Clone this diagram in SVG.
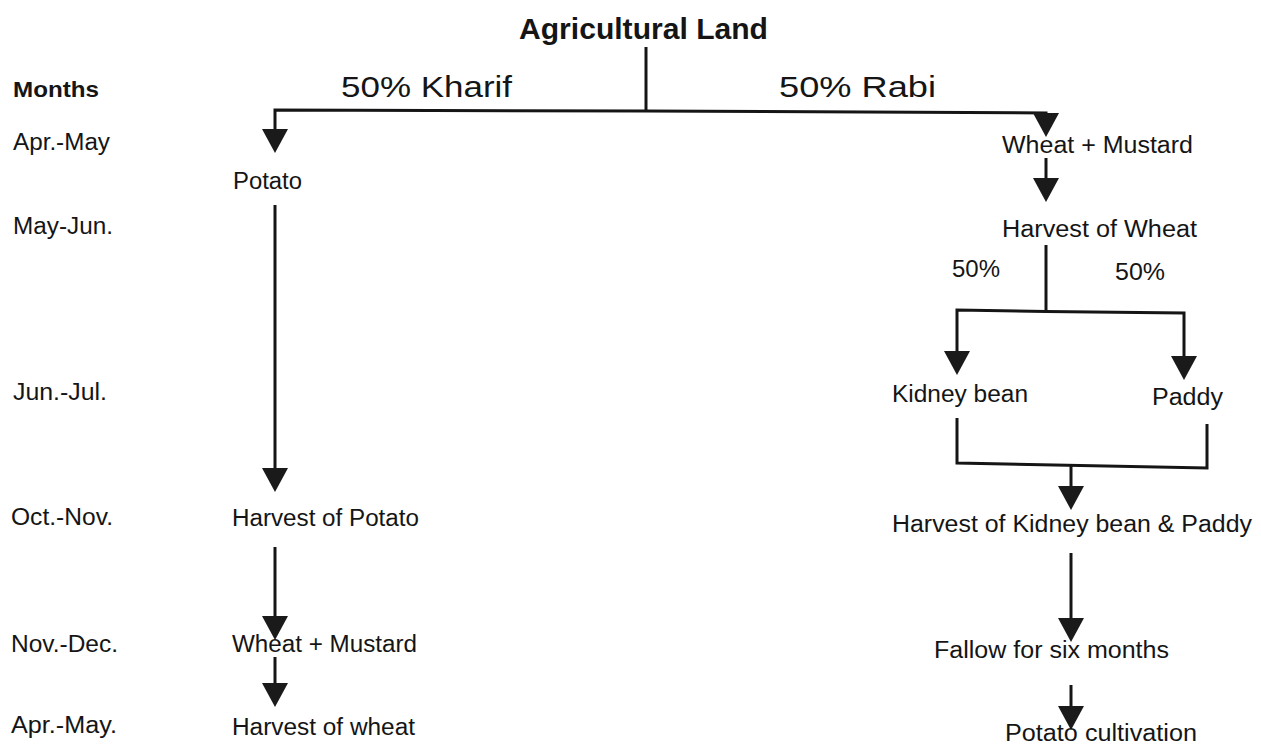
<svg xmlns="http://www.w3.org/2000/svg" width="1261" height="744" viewBox="0 0 1261 744">
<style>
  text { font-family: "Liberation Sans", Arial, sans-serif; fill: #151515; }
  .lbl { font-size: 23.5px; }
  .bold { font-weight: bold; font-size: 22px; }
  .big { font-size: 30px; }
  .ttl { font-size: 29px; font-weight: bold; }
  .ln { fill: none; stroke: #151515; stroke-width: 3; stroke-linejoin: miter; }
  .arr { marker-end: url(#ah); }
</style>
<defs>
  <marker id="ah" markerUnits="userSpaceOnUse" markerWidth="24" markerHeight="26" viewBox="0 0 24 26" refX="20" refY="13" orient="auto">
    <path d="M0,0 L24,13 L0,26 Z" fill="#1a1a1a"/>
  </marker>
</defs>
<rect width="1261" height="744" fill="#ffffff"/>

<g id="months">
  <text class="lbl bold" x="13" y="97" textLength="86" lengthAdjust="spacingAndGlyphs">Months</text>
  <text class="lbl" x="13" y="150" textLength="97" lengthAdjust="spacingAndGlyphs">Apr.-May</text>
  <text class="lbl" x="13" y="234" textLength="100" lengthAdjust="spacingAndGlyphs">May-Jun.</text>
  <text class="lbl" x="13" y="400" textLength="94" lengthAdjust="spacingAndGlyphs">Jun.-Jul.</text>
  <text class="lbl" x="11" y="525" textLength="102" lengthAdjust="spacingAndGlyphs">Oct.-Nov.</text>
  <text class="lbl" x="11" y="652" textLength="107" lengthAdjust="spacingAndGlyphs">Nov.-Dec.</text>
  <text class="lbl" x="11" y="733" textLength="106" lengthAdjust="spacingAndGlyphs">Apr.-May.</text>
</g>

<g id="connectors">
  <path class="ln" d="M646,47 V111"/>
  <path class="ln arr" d="M646,111 L275,110 V149"/>
  <path class="ln arr" d="M646,111 L1046,113 V133"/>
  <path class="ln arr" d="M1046,158 V198"/>
  <path class="ln arr" d="M275,205 V488"/>
  <path class="ln arr" d="M275,547 V636"/>
  <path class="ln arr" d="M275,657 V703"/>
  <path class="ln" d="M1046,245 V311.5"/>
  <path class="ln arr" d="M1046,311.5 L957,310 V371"/>
  <path class="ln arr" d="M1046,311.5 L1184,313 V376"/>
  <path class="ln" d="M957,418 V463 L1207,468 V424"/>
  <path class="ln arr" d="M1071,465.5 V506"/>
  <path class="ln arr" d="M1071,553 V638"/>
  <path class="ln arr" d="M1071,685 V726"/>
</g>

<g id="agricultural-land">
  <text class="ttl" x="519" y="39" textLength="249" lengthAdjust="spacingAndGlyphs">Agricultural Land</text>
</g>
<g id="kharif-label">
  <text class="big" x="341" y="97" textLength="171" lengthAdjust="spacingAndGlyphs">50% Kharif</text>
</g>
<g id="rabi-label">
  <text class="big" x="779" y="97" textLength="157" lengthAdjust="spacingAndGlyphs">50% Rabi</text>
</g>

<g id="potato">
  <text class="lbl" x="233" y="189" textLength="69" lengthAdjust="spacingAndGlyphs">Potato</text>
</g>
<g id="harvest-potato">
  <text class="lbl" x="232" y="526" textLength="187" lengthAdjust="spacingAndGlyphs">Harvest of Potato</text>
</g>
<g id="wheat-mustard-left">
  <text class="lbl" x="232" y="652" textLength="185" lengthAdjust="spacingAndGlyphs">Wheat + Mustard</text>
</g>
<g id="harvest-wheat-left">
  <text class="lbl" x="232" y="735" textLength="183" lengthAdjust="spacingAndGlyphs">Harvest of wheat</text>
</g>

<g id="wheat-mustard-right">
  <text class="lbl" x="1002" y="153" textLength="191" lengthAdjust="spacingAndGlyphs">Wheat + Mustard</text>
</g>
<g id="harvest-wheat-right">
  <text class="lbl" x="1002" y="237" textLength="195" lengthAdjust="spacingAndGlyphs">Harvest of Wheat</text>
</g>
<g id="split-labels">
  <text class="lbl" x="952" y="277" textLength="48" lengthAdjust="spacingAndGlyphs">50%</text>
  <text class="lbl" x="1115" y="280" textLength="50" lengthAdjust="spacingAndGlyphs">50%</text>
</g>
<g id="kidney-bean">
  <text class="lbl" x="892" y="402" textLength="136" lengthAdjust="spacingAndGlyphs">Kidney bean</text>
</g>
<g id="paddy">
  <text class="lbl" x="1152" y="405" textLength="71" lengthAdjust="spacingAndGlyphs">Paddy</text>
</g>
<g id="harvest-kidney-paddy">
  <text class="lbl" x="892" y="532" textLength="360" lengthAdjust="spacingAndGlyphs">Harvest of Kidney bean &amp; Paddy</text>
</g>
<g id="fallow">
  <text class="lbl" x="934" y="658" textLength="235" lengthAdjust="spacingAndGlyphs">Fallow for six months</text>
</g>
<g id="potato-cultivation">
  <text class="lbl" x="1005" y="741" textLength="192" lengthAdjust="spacingAndGlyphs">Potato cultivation</text>
</g>
</svg>
